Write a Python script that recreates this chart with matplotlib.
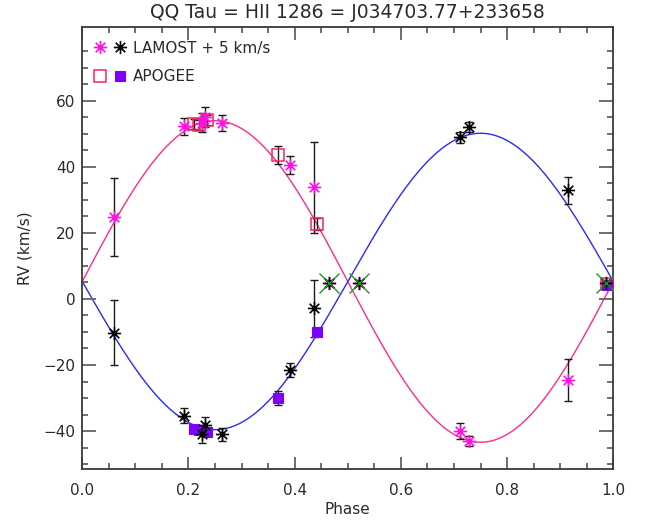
import numpy as np
import matplotlib
matplotlib.use("Agg")
import matplotlib.pyplot as plt
from matplotlib.path import Path
from matplotlib.legend_handler import HandlerTuple

# ---- orbital solution -------------------------------------------------------
gamma = 5.3      # systemic velocity (km/s)
k_primary = 48.7
k_secondary = 44.9

# ---- LAMOST epochs (already shifted by +5 km/s) -----------------------------
lamost_phase = [0.060, 0.191, 0.226, 0.231, 0.264, 0.392, 0.436, 0.711, 0.728, 0.914]
lamost_rv1 = [24.8, 52.3, 53.4, 55.2, 53.3, 40.7, 33.8, -39.9, -42.9, -24.5]
lamost_err1 = [11.7, 2.5, 2.8, 3.0, 2.4, 2.7, 13.9, 2.4, 1.5, 6.3]
lamost_rv2 = [-10.2, -35.3, -41.0, -38.3, -41.0, -21.5, -2.8, 49.0, 52.2, 32.9]
lamost_err2 = [9.9, 2.3, 2.5, 2.5, 2.0, 2.0, 8.7, 1.7, 1.5, 4.0]

# LAMOST epochs where the two components are blended
blend_phase = [0.465, 0.521, 0.987]
blend_rv = [4.8, 4.8, 4.9]
blend_err = [1.0, 1.0, 1.0]

# ---- APOGEE epochs ----------------------------------------------------------
apogee_phase = [0.210, 0.220, 0.234, 0.368, 0.442, 0.989]
apogee_rv1 = [53.1, 52.8, 54.1, 43.6, 22.7, 4.4]
apogee_err1 = [1.5, 1.5, 1.5, 2.6, 1.7, 1.0]
apogee_rv2 = [-39.4, -39.8, -40.4, -30.1, -10.1, 4.2]
apogee_err2 = [1.2, 1.2, 1.2, 2.1, 1.2, 1.0]

title = "QQ Tau = HII 1286 = J034703.77+233658"
x_ticks = [0.0, 0.2, 0.4, 0.6, 0.8, 1.0]
y_ticks = [-40, -20, 0, 20, 40, 60]

# colours
c_curve1 = "#FF2B8C"
c_curve2 = "#2A2AFF"
c_star1 = "#FF10E8"
c_square1 = "#F5245E"
c_square2 = "#8000FF"
c_blend = "#14A014"
c_text = "#2a2a2a"

# asterisk symbol: vertical, horizontal and two diagonals
_d = 0.72
asterisk = Path(
    [(0, -1), (0, 1), (-1, 0), (1, 0), (-_d, -_d), (_d, _d), (-_d, _d), (_d, -_d)],
    [Path.MOVETO, Path.LINETO] * 4,
)

fig = plt.figure(figsize=(6.52, 5.21), dpi=100)
ax = fig.add_axes([0.1262, 0.0992, 0.8145, 0.8484])

phase = np.linspace(0.0, 1.0, 500)
ax.plot(phase, gamma + k_primary * np.sin(2 * np.pi * phase), color=c_curve1, lw=1.0, zorder=1)
ax.plot(phase, gamma - k_secondary * np.sin(2 * np.pi * phase), color=c_curve2, lw=1.0, zorder=1)

eb = dict(fmt="none", ecolor="#1a1a1a", elinewidth=1.0, capsize=2.6, capthick=1.0, zorder=2)
ax.errorbar(lamost_phase, lamost_rv1, yerr=lamost_err1, **eb)
ax.errorbar(lamost_phase, lamost_rv2, yerr=lamost_err2, **eb)
ax.errorbar(apogee_phase, apogee_rv1, yerr=apogee_err1, **eb)
ax.errorbar(apogee_phase, apogee_rv2, yerr=apogee_err2, **eb)
ax.errorbar(blend_phase, blend_rv, yerr=blend_err, **eb)

star_kw = dict(ls="none", marker=asterisk, markersize=9.5, markeredgewidth=1.2)
sq1_kw = dict(ls="none", marker="s", markersize=8.0, markerfacecolor="none",
              markeredgecolor=c_square1, markeredgewidth=1.1)
sq2_kw = dict(ls="none", marker="s", markersize=7.5, markerfacecolor=c_square2,
              markeredgecolor=c_square2, markeredgewidth=0.8)

h_star1, = ax.plot(lamost_phase, lamost_rv1, color=c_star1, zorder=4, **star_kw)
h_star2, = ax.plot(lamost_phase, lamost_rv2, color="black", zorder=4, **star_kw)
h_sq1, = ax.plot(apogee_phase, apogee_rv1, zorder=3, **sq1_kw)
h_sq2, = ax.plot(apogee_phase, apogee_rv2, zorder=3, **sq2_kw)

ax.plot(blend_phase, blend_rv, color=c_star1, zorder=4, **star_kw)
ax.plot(blend_phase, blend_rv, color="black", zorder=5, **star_kw)
ax.plot(blend_phase, blend_rv, ls="none", marker="x", markersize=14,
        markeredgewidth=1.0, color=c_blend, zorder=6)

ax.set_xlim(0.0, 1.0)
ax.set_ylim(-51.6, 82.3)
ax.set_xticks(x_ticks)
ax.set_xticklabels([f"{t:.1f}" for t in x_ticks])
ax.set_xticks(np.arange(0.05, 1.0, 0.05), minor=True)
ax.set_yticks(y_ticks)
ax.set_yticks(np.arange(-50, 76, 5), minor=True)

ax.tick_params(which="both", direction="in", top=True, right=True,
               color="#6e6e6e", width=1.4, labelsize=11, labelcolor=c_text)
ax.tick_params(axis="x", which="major", length=9, pad=10)
ax.tick_params(axis="y", which="major", length=10, pad=5)
ax.tick_params(which="minor", length=4.5)
for s in ax.spines.values():
    s.set_color("#3a3a3a")
    s.set_linewidth(1.3)

ax.set_xlabel("Phase", fontsize=11, color=c_text, labelpad=3)
ax.set_ylabel("RV (km/s)", fontsize=11, color=c_text, labelpad=8)
ax.set_title(title, fontsize=13.5, color=c_text, pad=7)

ax.legend(
    handles=[(h_star1, h_star2), (h_sq1, h_sq2)],
    labels=["LAMOST + 5 km/s", "APOGEE"],
    handler_map={tuple: HandlerTuple(ndivide=None, pad=0.0)},
    loc="upper left", bbox_to_anchor=(0.0145, 0.970),
    frameon=False, fontsize=11, handlelength=2.6, handletextpad=0.2,
    borderpad=0.0, borderaxespad=0.0, labelspacing=0.88,
    labelcolor=c_text,
)

fig.savefig("out.png", dpi=100)
